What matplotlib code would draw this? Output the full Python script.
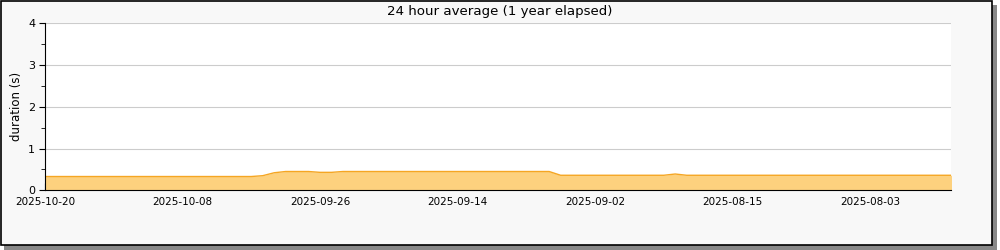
import matplotlib
matplotlib.use("Agg")
import matplotlib.pyplot as plt
from matplotlib.patches import Rectangle

# one sample per day, newest first (x runs backwards in time)
valores = ([0.33] * 19 + [0.35, 0.42, 0.45, 0.45, 0.45, 0.43, 0.43]
           + [0.45] * 19 + [0.36] * 10 + [0.39] + [0.36] * 25)
rotulos = ["2025-10-20", "2025-10-08", "2025-09-26", "2025-09-14",
           "2025-09-02", "2025-08-15", "2025-08-03"]

x = list(range(len(valores)))

fig = plt.figure(figsize=(10, 2.5), dpi=100)
fig.patch.set_facecolor("white")

# moldura com sombra
fig.patches.append(Rectangle((4 / 1000, 0), 993 / 1000, 245 / 250, transform=fig.transFigure,
                             facecolor="#888888", edgecolor="none", zorder=-3))
fig.patches.append(Rectangle((0.5 / 1000, 5.5 / 250), 991 / 1000, 244 / 250, transform=fig.transFigure,
                             facecolor="#f8f8f8", edgecolor="black", linewidth=1.2, zorder=-2))

ax = fig.add_axes([0.045, 0.2388, 0.906, 0.668])
ax.set_facecolor("white")
ax.fill_between(x, valores, 0, color="#fdd17e", linewidth=0)
ax.plot(x, valores, color="#f5a623", linewidth=1)

ax.set_xlim(0, 79.07)
ax.set_ylim(0, 4)
ax.set_yticks([0, 1, 2, 3, 4])
ax.set_yticks([0.5, 1.5, 2.5, 3.5], minor=True)
ax.set_xticks(range(0, 80, 12))
ax.set_xticklabels(rotulos)
ax.set_xticks(range(6, 80, 12), minor=True)
ax.tick_params(axis="x", which="both", direction="in", length=5, labelsize=7.5, pad=5)
ax.tick_params(axis="y", which="major", direction="out", length=4, labelsize=8, pad=3)
ax.tick_params(axis="y", which="minor", direction="out", length=3)
ax.grid(axis="y", color="#cccccc", linewidth=0.8)
ax.set_axisbelow(True)
for lado in ["top", "right"]:
    ax.spines[lado].set_visible(False)

ax.set_ylabel("duration (s)", fontsize=8.5, labelpad=4)
fig.text(0.5, 0.955, "24 hour average (1 year elapsed)", ha="center", va="center", fontsize=9.6)

plt.savefig("out.png", dpi=100)
